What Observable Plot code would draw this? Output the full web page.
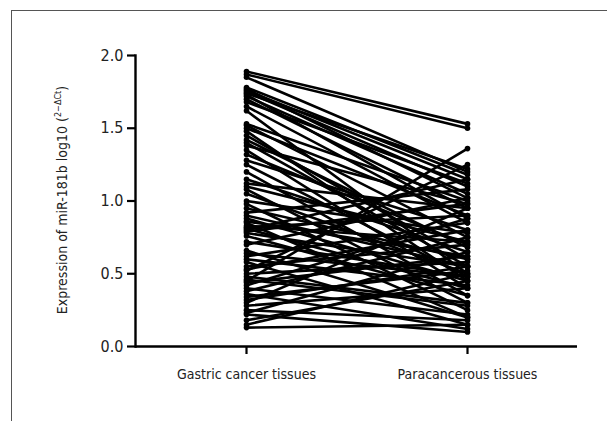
<!DOCTYPE html>
<html>
<head>
<meta charset="utf-8">
<script src="https://cdn.jsdelivr.net/npm/d3@7"></script>
<script src="https://cdn.jsdelivr.net/npm/@observablehq/plot@0.6"></script>
<style>
  html, body { margin: 0; padding: 0; background: #fff; }
  #wrap { position: relative; width: 607px; height: 421px; overflow: hidden; }
  #border { position: absolute; left: 11px; top: 10px; right: -5px; bottom: -5px;
            border-left: 1.5px solid #555; border-top: 1.5px solid #555; }
  #chart { position: absolute; left: 0; top: 0; }
  svg text { font-stretch: condensed; }
</style>
</head>
<body>
<div id="wrap"><div id="border"></div><div id="chart"></div></div>
<script>
const groups = ["Gastric cancer tissues", "Paracancerous tissues"];
const yTicks = [0, 0.5, 1.0, 1.5, 2.0];
const cancer = [1.89,1.87,1.85,1.78,1.77,1.76,1.75,1.74,1.73,1.72,1.70,1.68,1.65,1.62,1.53,1.52,1.50,1.48,1.45,1.42,1.40,1.38,1.35,1.32,1.28,1.25,1.20,1.15,1.12,1.10,1.08,1.05,1.00,0.98,0.95,0.92,0.90,0.88,0.86,0.85,0.83,0.82,0.81,0.80,0.79,0.78,0.76,0.72,0.70,0.66,0.64,0.62,0.60,0.58,0.55,0.53,0.52,0.50,0.48,0.46,0.45,0.44,0.42,0.40,0.38,0.36,0.34,0.32,0.30,0.28,0.25,0.23,0.22,0.18,0.15,0.13];
const para   = [1.53,1.50,1.20,1.18,1.02,1.15,1.10,1.22,0.88,1.05,0.95,1.12,0.85,0.50,1.00,0.75,0.90,0.45,0.60,0.68,0.55,0.98,0.40,0.70,0.80,0.48,0.35,0.65,0.95,0.72,0.30,0.50,0.78,0.25,0.60,1.08,0.55,0.45,0.62,0.20,0.72,0.90,0.40,1.15,0.98,0.55,0.35,0.48,1.02,0.20,0.48,0.85,0.42,0.15,0.70,0.80,1.25,0.58,0.30,0.28,1.36,0.62,0.88,0.22,0.75,0.12,0.52,0.55,0.95,0.40,0.18,0.65,0.10,0.45,0.50,0.15];

const rows = [];
cancer.forEach((v, i) => {
  rows.push({pair: i, group: groups[0], value: v});
  rows.push({pair: i, group: groups[1], value: para[i]});
});

const font = "'DejaVu Sans Condensed', 'DejaVu Sans', sans-serif";

const plot = Plot.plot({
  width: 607,
  height: 421,
  marginLeft: 135,
  marginRight: 30,
  marginTop: 55,
  marginBottom: 75,
  style: {fontFamily: font, fontSize: "14px", color: "#222", background: "transparent"},
  x: {type: "point", domain: groups, padding: 0.5, label: null},
  y: {domain: [0, 2], label: null},
  marks: [
    Plot.line(rows, {x: "group", y: "value", z: "pair", stroke: "black", strokeWidth: 2.6}),
    Plot.dot(rows, {x: "group", y: "value", r: 2.8, fill: "black", stroke: "none"}),
    Plot.axisY({ticks: yTicks, tickFormat: d3.format(".1f"), tickSize: 8, tickPadding: 4, strokeWidth: 2.2, fontSize: 16, stroke: "black"}),
    Plot.axisX({tickSize: 8, tickPadding: 15, strokeWidth: 2.2, fontSize: 14, stroke: "black"}),
    Plot.frame({anchor: "left", stroke: "black", strokeWidth: 2.4}),
    Plot.ruleY([0], {stroke: "black", strokeWidth: 2.4})
  ]
});

const svg = d3.select(plot);
const t = svg.append("text")
  .attr("transform", "translate(67,200) rotate(-90)")
  .attr("text-anchor", "middle")
  .attr("font-family", font)
  .attr("font-size", 14)
  .attr("fill", "#222");
t.append("tspan").text("Expression of miR-181b log10 (");
t.append("tspan").attr("font-size", 9).attr("dy", -6).text("2\u2212\u0394Ct");
t.append("tspan").attr("dy", 6).text(")");

document.getElementById("chart").appendChild(plot);
</script>
</body>
</html>
